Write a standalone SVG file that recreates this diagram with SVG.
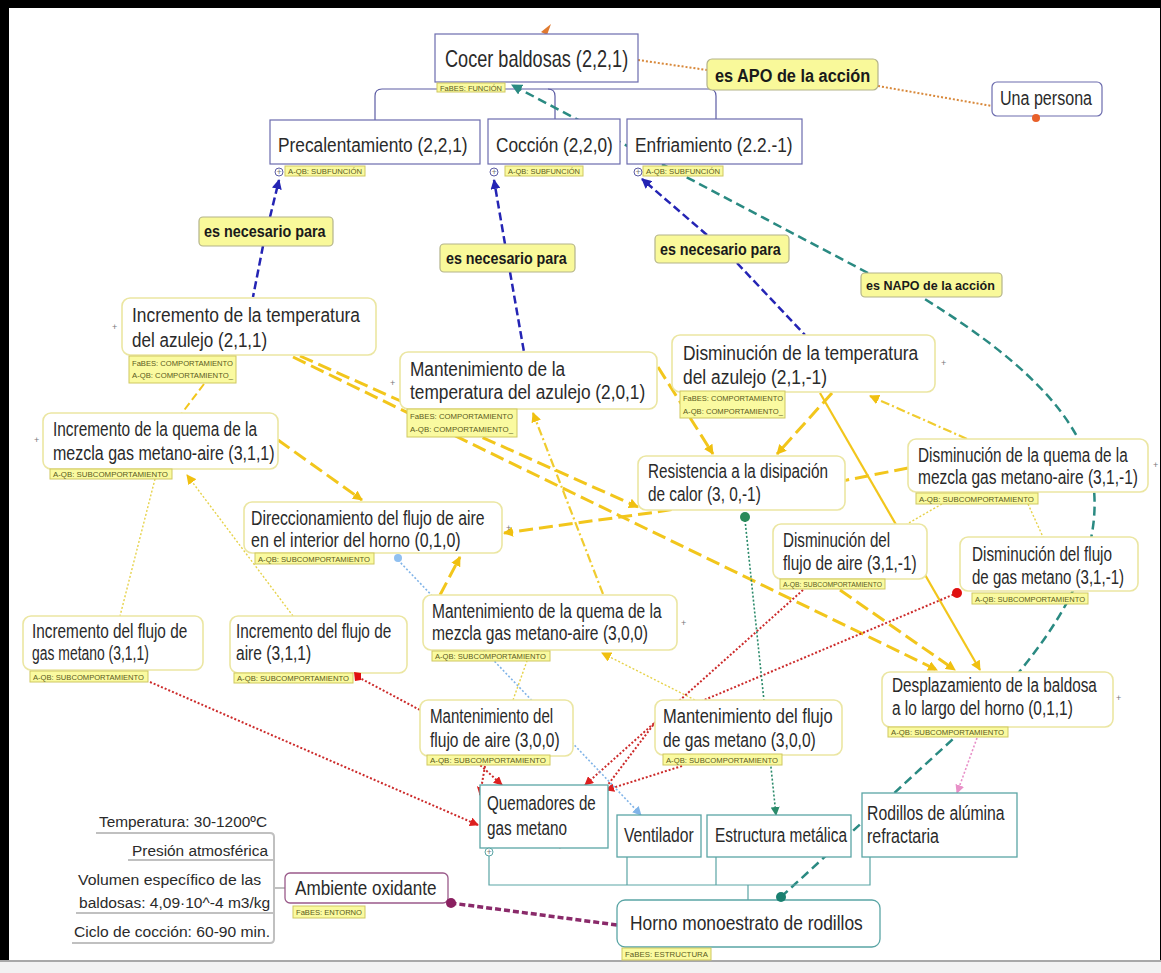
<svg xmlns="http://www.w3.org/2000/svg" width="1161" height="973" viewBox="0 0 1161 973">
<style>
text{font-family:"Liberation Sans",Arial,sans-serif;fill:#2a2a2a}
.t{font-size:21px}
.big{font-size:23px}
.s15{font-size:15.5px}
.tg rect{fill:#fafaa0;stroke:#cfc860;stroke-width:1}
.tg text{font-size:8px;fill:#5a5a20}
.lb rect{fill:#f9f99a;stroke:#b4b48a;stroke-width:1.2}
.lb text{font-weight:bold;font-size:16px;fill:#1a1a1a}
.bn{fill:#fff;stroke:#ebe6a2;stroke-width:1.6}
.fn{fill:#fff;stroke:#6c6cae;stroke-width:1.2}
.sn{fill:#fff;stroke:#5aa5a5;stroke-width:1.3}
.plus{font-size:9px;fill:#777}
.yd{fill:none;stroke:#f2c61c;stroke-width:3;stroke-dasharray:14 6}
.ym{fill:none;stroke:#f2c61c;stroke-width:2;stroke-dasharray:8 4}
.ydd{fill:none;stroke:#f0cc30;stroke-width:2.2;stroke-dasharray:9 3 2 3}
.ys{fill:none;stroke:#f2c61c;stroke-width:2.2}
.yt{fill:none;stroke:#e6d24a;stroke-width:1.4;stroke-dasharray:2 2}
.bd{fill:none;stroke:#2424b4;stroke-width:2.5;stroke-dasharray:8 4}
.td{fill:none;stroke:#2a8a82;stroke-width:2.5;stroke-dasharray:9 5}
.rd{fill:none;stroke:#cc2a2a;stroke-width:2;stroke-dasharray:2 2}
.tree{fill:none;stroke:#5c5ca4;stroke-width:1.2}
.stree{fill:none;stroke:#5aa5a5;stroke-width:1.2}
</style>
<defs>
<marker id="ay" viewBox="0 0 10 10" refX="9" refY="5" markerWidth="10" markerHeight="10" markerUnits="userSpaceOnUse" orient="auto"><path d="M0,0 L10,5 L0,10 z" fill="#f0c010"/></marker>
<marker id="ab" viewBox="0 0 10 10" refX="9" refY="5" markerWidth="10" markerHeight="10" markerUnits="userSpaceOnUse" orient="auto"><path d="M0,0 L10,5 L0,10 z" fill="#2424b4"/></marker>
<marker id="at" viewBox="0 0 10 10" refX="9" refY="5" markerWidth="11" markerHeight="11" markerUnits="userSpaceOnUse" orient="auto"><path d="M0,0 L10,5 L0,10 z" fill="#2a8a82"/></marker>
<marker id="ar" viewBox="0 0 10 10" refX="9" refY="5" markerWidth="9" markerHeight="9" markerUnits="userSpaceOnUse" orient="auto"><path d="M0,0 L10,5 L0,10 z" fill="#dd2020"/></marker>
<marker id="alb" viewBox="0 0 10 10" refX="9" refY="5" markerWidth="9" markerHeight="9" markerUnits="userSpaceOnUse" orient="auto"><path d="M0,0 L10,5 L0,10 z" fill="#80b4e8"/></marker>
<marker id="ag" viewBox="0 0 10 10" refX="9" refY="5" markerWidth="9" markerHeight="9" markerUnits="userSpaceOnUse" orient="auto"><path d="M0,0 L10,5 L0,10 z" fill="#2a8a6a"/></marker>
<marker id="ap" viewBox="0 0 10 10" refX="9" refY="5" markerWidth="9" markerHeight="9" markerUnits="userSpaceOnUse" orient="auto"><path d="M0,0 L10,5 L0,10 z" fill="#e890c8"/></marker>
</defs>

<rect width="1161" height="973" fill="#000"/>
<rect x="9" y="8" width="1151" height="953" fill="#fff"/>
<rect x="0" y="961" width="1161" height="12" fill="#f2f2f2"/>
<line x1="0" y1="961" x2="1161" y2="961" stroke="#a8a8a8" stroke-width="2"/>

<g id="connectors">
<path class="tree" d="M375,120 V96 Q375,89 382,89 H709 Q716,89 716,96 V119"/>
<path class="tree" d="M555,119 V96 Q555,89 548,89"/>
<path d="M638,60 L707,70" fill="none" stroke="#d8883a" stroke-width="2" stroke-dasharray="2 2"/>
<path d="M878,86 L992,106" fill="none" stroke="#d8883a" stroke-width="2" stroke-dasharray="2 2"/>
<path d="M541,32 L551,24 L547,35 z" fill="#e07a30"/>
<path class="bd" d="M270,217 L279,180" marker-end="url(#ab)"/>
<path class="bd" d="M263,246 L253,297"/>
<path class="bd" d="M505,244 L494,180" marker-end="url(#ab)"/>
<path class="bd" d="M510,272 L524,352"/>
<path class="bd" d="M707,235 L642,179" marker-end="url(#ab)"/>
<path class="bd" d="M737,263 L805,335"/>
<path class="td" d="M868,273 L512,85" marker-end="url(#at)"/>
<path class="td" d="M781,897 L990,705 C1060,630 1100,560 1094,490 C1088,430 1040,370 923,298"/>
<path class="ym" d="M204,384 L182,413"/>
<path class="yd" d="M278,440 L362,500" marker-end="url(#ay)"/>
<path class="yt" d="M155,479 L120,616"/>
<path class="yt" d="M293,616 L187,475" marker-end="url(#ay)"/>
<path class="yd" d="M908,468 L847,480 L657,512 L504,533" marker-end="url(#ay)"/>
<path class="yd" d="M440,595 L460,557" marker-end="url(#ay)"/>
<path class="ydd" d="M603,594 L533,413" marker-end="url(#ay)"/>
<path class="yd" d="M293,357 L937,670" marker-end="url(#ay)"/>
<path class="yd" d="M300,356 L638,507" marker-end="url(#ay)"/>
<path class="yd" d="M658,367 L713,454" marker-end="url(#ay)"/>
<path class="yd" d="M832,393 L777,454" marker-end="url(#ay)"/>
<path class="ys" d="M820,393 L980,670" marker-end="url(#ay)"/>
<path class="ydd" d="M967,439 L870,396" marker-end="url(#ay)"/>
<path class="yt" d="M942,504 L907,524"/>
<path class="yt" d="M1028,504 L1043,537"/>
<path class="yd" d="M840,590 L955,670" marker-end="url(#ay)"/>
<path class="yt" d="M695,700 L602,653" marker-end="url(#ay)"/>
<path class="yt" d="M513,700 L527,661"/>
<path class="rd" d="M150,682 L478,825" marker-end="url(#ar)"/>
<path class="rd" d="M358,677 L420,710 L502,785" marker-end="url(#ar)"/>
<path class="rd" d="M485,766 L480,795" marker-end="url(#ar)"/>
<path class="rd" d="M803,590 L585,785" marker-end="url(#ar)"/>
<path class="rd" d="M957,593 L657,720 L560,848" marker-end="url(#ar)"/>
<path class="rd" d="M682,766 L606,790" marker-end="url(#ar)"/>
<path d="M398,560 L641,815" fill="none" stroke="#80b4e8" stroke-width="1.6" stroke-dasharray="2 2" marker-end="url(#alb)"/>
<path d="M745,520 L776,815" fill="none" stroke="#2a8a6a" stroke-width="1.6" stroke-dasharray="2 2" marker-end="url(#ag)"/>
<path d="M977,738 L957,793" fill="none" stroke="#e890c8" stroke-width="1.6" stroke-dasharray="2 2" marker-end="url(#ap)"/>
<path d="M617,925 L451,903" fill="none" stroke="#8a2a6a" stroke-width="3.5" stroke-dasharray="6 3"/>
<path class="stree" d="M489,856 V885 H870 V857 M627,857 V885 M716,857 V885 M748,885 V900"/>
<g stroke="#c0c0c0" stroke-width="2" fill="none">
<path d="M96,833 H270 Q274,833 274,837 V939 Q274,943 270,943 H72"/>
<path d="M128,860 H274 M76,913 H274 M274,888 H285"/>
</g>
</g>

<g id="n-cocer">
<rect class="fn" x="435" y="34" width="203" height="48"/>
<text class="big" transform="translate(445 67) scale(.8 1)" textLength="229" lengthAdjust="spacingAndGlyphs">Cocer baldosas (2,2,1)</text>
<g class="tg"><rect x="437" y="83" width="68" height="9"/><text x="440" y="90.5" textLength="62" lengthAdjust="spacingAndGlyphs">FaBES: FUNCIÓN</text></g>
</g>
<g id="n-precal">
<rect class="fn" x="270" y="120" width="210" height="44"/>
<text class="t" transform="translate(278 152) scale(.8 1)" textLength="237" lengthAdjust="spacingAndGlyphs">Precalentamiento (2,2,1)</text>
<g class="tg"><rect x="285" y="166" width="80" height="10"/><text x="288" y="174" textLength="74" lengthAdjust="spacingAndGlyphs">A-QB: SUBFUNCIÓN</text></g>
<circle cx="279" cy="172" r="4" fill="#fff" stroke="#5c5ca4"/><text class="plus" x="276.5" y="175">+</text>
</g>
<g id="n-coccion">
<rect class="fn" x="488" y="119" width="132" height="45"/>
<text class="t" transform="translate(496 152) scale(.8 1)" textLength="146" lengthAdjust="spacingAndGlyphs">Cocción (2,2,0)</text>
<g class="tg"><rect x="505" y="166" width="78" height="10"/><text x="508" y="174" textLength="72" lengthAdjust="spacingAndGlyphs">A-QB: SUBFUNCIÓN</text></g>
<circle cx="494" cy="172" r="4" fill="#fff" stroke="#5c5ca4"/><text class="plus" x="491.5" y="175">+</text>
</g>
<g id="n-enfri">
<rect class="fn" x="627" y="119" width="175" height="45"/>
<text class="t" transform="translate(635 152) scale(.8 1)" textLength="197" lengthAdjust="spacingAndGlyphs">Enfriamiento (2.2.-1)</text>
<g class="tg"><rect x="643" y="166" width="80" height="10"/><text x="646" y="174" textLength="74" lengthAdjust="spacingAndGlyphs">A-QB: SUBFUNCIÓN</text></g>
<circle cx="638" cy="172" r="4" fill="#fff" stroke="#5c5ca4"/><text class="plus" x="635.5" y="175">+</text>
</g>
<g id="n-persona">
<rect class="fn" x="992" y="82" width="110" height="34" rx="5"/>
<text class="t" transform="translate(1000 105) scale(.8 1)" textLength="115" lengthAdjust="spacingAndGlyphs">Una persona</text>
<circle cx="1036" cy="118" r="4" fill="#e8602a"/>
</g>

<g id="l-apo" class="lb"><rect x="707" y="59" width="171" height="31" rx="5"/><text transform="translate(715 82) scale(.8 1)" style="font-size:19px" textLength="194" lengthAdjust="spacingAndGlyphs">es APO de la acción</text></g>
<g id="l-nec1" class="lb"><rect x="199" y="217" width="134" height="29" rx="4"/><text transform="translate(204 237) scale(.8 1)" textLength="152" lengthAdjust="spacingAndGlyphs">es necesario para</text></g>
<g id="l-nec2" class="lb"><rect x="440" y="244" width="135" height="28" rx="4"/><text transform="translate(446 264) scale(.8 1)" textLength="151" lengthAdjust="spacingAndGlyphs">es necesario para</text></g>
<g id="l-nec3" class="lb"><rect x="655" y="235" width="134" height="28" rx="4"/><text transform="translate(660 255) scale(.8 1)" textLength="151" lengthAdjust="spacingAndGlyphs">es necesario para</text></g>
<g id="l-napo" class="lb"><rect x="861" y="273" width="141" height="24" rx="4"/><text transform="translate(866 290) scale(.8 1)" style="font-size:13.5px" textLength="161" lengthAdjust="spacingAndGlyphs">es NAPO de la acción</text></g>

<g id="n-inc-temp">
<rect class="bn" x="122" y="298" width="254" height="57" rx="8"/>
<text class="t" transform="translate(132 322) scale(.8 1)" textLength="285" lengthAdjust="spacingAndGlyphs">Incremento de la temperatura</text>
<text class="t" transform="translate(132 347) scale(.8 1)" textLength="169" lengthAdjust="spacingAndGlyphs">del azulejo (2,1,1)</text>
<g class="tg"><rect x="129" y="356" width="107" height="27"/><text x="132" y="366" textLength="101" lengthAdjust="spacingAndGlyphs">FaBES: COMPORTAMIENTO</text><text x="132" y="378" textLength="101" lengthAdjust="spacingAndGlyphs">A-QB: COMPORTAMIENTO_</text></g>
<text class="plus" x="112" y="330">+</text>
</g>
<g id="n-man-temp">
<rect class="bn" x="400" y="352" width="257" height="57" rx="8"/>
<text class="t" transform="translate(410 376) scale(.8 1)" textLength="194" lengthAdjust="spacingAndGlyphs">Mantenimiento de la</text>
<text class="t" transform="translate(410 399) scale(.8 1)" textLength="294" lengthAdjust="spacingAndGlyphs">temperatura del azulejo (2,0,1)</text>
<g class="tg"><rect x="407" y="409" width="110" height="28"/><text x="410" y="419" textLength="103" lengthAdjust="spacingAndGlyphs">FaBES: COMPORTAMIENTO</text><text x="410" y="432" textLength="103" lengthAdjust="spacingAndGlyphs">A-QB: COMPORTAMIENTO_</text></g>
<text class="plus" x="390" y="386">+</text>
</g>
<g id="n-dis-temp">
<rect class="bn" x="672" y="335" width="263" height="57" rx="8"/>
<text class="t" transform="translate(683 360) scale(.8 1)" textLength="294" lengthAdjust="spacingAndGlyphs">Disminución de la temperatura</text>
<text class="t" transform="translate(683 384) scale(.8 1)" textLength="180" lengthAdjust="spacingAndGlyphs">del azulejo (2,1,-1)</text>
<g class="tg"><rect x="680" y="391" width="105" height="27"/><text x="683" y="401" textLength="100" lengthAdjust="spacingAndGlyphs">FaBES: COMPORTAMIENTO</text><text x="683" y="414" textLength="100" lengthAdjust="spacingAndGlyphs">A-QB: COMPORTAMIENTO_</text></g>
<text class="plus" x="941" y="366">+</text>
</g>
<g id="n-inc-quema">
<rect class="bn" x="43" y="413" width="235" height="56" rx="8"/>
<text class="t" transform="translate(53 436) scale(.8 1)" textLength="255" lengthAdjust="spacingAndGlyphs">Incremento de la quema de la</text>
<text class="t" transform="translate(53 460) scale(.8 1)" textLength="277" lengthAdjust="spacingAndGlyphs">mezcla gas metano-aire (3,1,1)</text>
<g class="tg"><rect x="50" y="469" width="122" height="10"/><text x="53" y="477" textLength="115" lengthAdjust="spacingAndGlyphs">A-QB: SUBCOMPORTAMIENTO</text></g>
<text class="plus" x="34" y="443">+</text>
</g>
<g id="n-resist">
<rect class="bn" x="638" y="456" width="207" height="54" rx="8"/>
<text class="t" transform="translate(648 478) scale(.8 1)" textLength="225" lengthAdjust="spacingAndGlyphs">Resistencia a la disipación</text>
<text class="t" transform="translate(648 501) scale(.8 1)" textLength="141" lengthAdjust="spacingAndGlyphs">de calor (3, 0,-1)</text>
<circle cx="745" cy="517" r="5" fill="#2a8a5a"/>
</g>
<g id="n-dis-quema">
<rect class="bn" x="908" y="439" width="240" height="53" rx="8"/>
<text class="t" transform="translate(918 462) scale(.78 1)" textLength="269" lengthAdjust="spacingAndGlyphs">Disminución de la quema de la</text>
<text class="t" transform="translate(918 484) scale(.78 1)" textLength="282" lengthAdjust="spacingAndGlyphs">mezcla gas metano-aire (3,1,-1)</text>
<g class="tg"><rect x="916" y="493" width="122" height="11"/><text x="919" y="501.5" textLength="115" lengthAdjust="spacingAndGlyphs">A-QB: SUBCOMPORTAMIENTO</text></g>
<text class="plus" x="1153" y="468">+</text>
</g>
<g id="n-direc">
<rect class="bn" x="244" y="502" width="258" height="51" rx="8"/>
<text class="t" transform="translate(251 525) scale(.8 1)" textLength="292" lengthAdjust="spacingAndGlyphs">Direccionamiento del flujo de aire</text>
<text class="t" transform="translate(251 547) scale(.8 1)" textLength="262" lengthAdjust="spacingAndGlyphs">en el interior del horno (0,1,0)</text>
<g class="tg"><rect x="255" y="553" width="119" height="11"/><text x="258" y="561.5" textLength="112" lengthAdjust="spacingAndGlyphs">A-QB: SUBCOMPORTAMIENTO</text></g>
<text class="plus" x="506" y="531">+</text>
<circle cx="398" cy="558" r="4" fill="#90c0f0"/>
</g>
<g id="n-dis-aire">
<rect class="bn" x="773" y="524" width="154" height="55" rx="8"/>
<text class="t" transform="translate(783 547) scale(.8 1)" textLength="134" lengthAdjust="spacingAndGlyphs">Disminución del</text>
<text class="t" transform="translate(783 570) scale(.8 1)" textLength="167" lengthAdjust="spacingAndGlyphs">flujo de aire (3,1,-1)</text>
<g class="tg"><rect x="780" y="579" width="105" height="10"/><text x="783" y="587" textLength="99" lengthAdjust="spacingAndGlyphs">A-QB: SUBCOMPORTAMIENTO</text></g>
</g>
<g id="n-dis-gas">
<rect class="bn" x="960" y="537" width="178" height="54" rx="8"/>
<text class="t" transform="translate(972 561) scale(.8 1)" textLength="175" lengthAdjust="spacingAndGlyphs">Disminución del flujo</text>
<text class="t" transform="translate(972 584) scale(.8 1)" textLength="190" lengthAdjust="spacingAndGlyphs">de gas metano (3,1,-1)</text>
<g class="tg"><rect x="972" y="593" width="116" height="11"/><text x="975" y="601.5" textLength="110" lengthAdjust="spacingAndGlyphs">A-QB: SUBCOMPORTAMIENTO</text></g>
<circle cx="957" cy="593" r="5" fill="#e01010"/>
</g>
<g id="n-man-quema">
<rect class="bn" x="423" y="595" width="254" height="55" rx="8"/>
<text class="t" transform="translate(432 618) scale(.8 1)" textLength="287" lengthAdjust="spacingAndGlyphs">Mantenimiento de la quema de la</text>
<text class="t" transform="translate(432 640) scale(.8 1)" textLength="270" lengthAdjust="spacingAndGlyphs">mezcla gas metano-aire (3,0,0)</text>
<g class="tg"><rect x="432" y="651" width="118" height="10"/><text x="435" y="659" textLength="111" lengthAdjust="spacingAndGlyphs">A-QB: SUBCOMPORTAMIENTO</text></g>
<text class="plus" x="681" y="626">+</text>
</g>
<g id="n-inc-gas">
<rect class="bn" x="23" y="616" width="180" height="54" rx="8"/>
<text class="t" transform="translate(32 638) scale(.8 1)" textLength="194" lengthAdjust="spacingAndGlyphs">Incremento del flujo de</text>
<text class="t" transform="translate(32 660) scale(.8 1)" textLength="146" lengthAdjust="spacingAndGlyphs">gas metano (3,1,1)</text>
<g class="tg"><rect x="30" y="671" width="118" height="11"/><text x="33" y="679.5" textLength="111" lengthAdjust="spacingAndGlyphs">A-QB: SUBCOMPORTAMIENTO</text></g>
</g>
<g id="n-inc-aire">
<rect class="bn" x="230" y="616" width="177" height="57" rx="8"/>
<text class="t" transform="translate(236 638) scale(.8 1)" textLength="194" lengthAdjust="spacingAndGlyphs">Incremento del flujo de</text>
<text class="t" transform="translate(236 660) scale(.8 1)" textLength="94" lengthAdjust="spacingAndGlyphs">aire (3,1,1)</text>
<g class="tg"><rect x="234" y="673" width="119" height="10"/><text x="237" y="681" textLength="112" lengthAdjust="spacingAndGlyphs">A-QB: SUBCOMPORTAMIENTO</text></g>
<path d="M354,672 L361,673 L361,680 L355,681 z" fill="#e01010"/>
</g>
<g id="n-man-aire">
<rect class="bn" x="420" y="700" width="153" height="56" rx="8"/>
<text class="t" transform="translate(430 723) scale(.8 1)" textLength="154" lengthAdjust="spacingAndGlyphs">Mantenimiento del</text>
<text class="t" transform="translate(430 747) scale(.8 1)" textLength="162" lengthAdjust="spacingAndGlyphs">flujo de aire (3,0,0)</text>
<g class="tg"><rect x="427" y="755" width="123" height="10"/><text x="430" y="763" textLength="116" lengthAdjust="spacingAndGlyphs">A-QB: SUBCOMPORTAMIENTO</text></g>
</g>
<g id="n-man-gas">
<rect class="bn" x="655" y="700" width="187" height="55" rx="8"/>
<text class="t" transform="translate(663 723) scale(.8 1)" textLength="212" lengthAdjust="spacingAndGlyphs">Mantenimiento del flujo</text>
<text class="t" transform="translate(663 747) scale(.8 1)" textLength="191" lengthAdjust="spacingAndGlyphs">de gas metano (3,0,0)</text>
<g class="tg"><rect x="663" y="754" width="119" height="11"/><text x="666" y="762.5" textLength="112" lengthAdjust="spacingAndGlyphs">A-QB: SUBCOMPORTAMIENTO</text></g>
</g>
<g id="n-despl">
<rect class="bn" x="882" y="672" width="231" height="55" rx="8"/>
<text class="t" transform="translate(892 692) scale(.8 1)" textLength="256" lengthAdjust="spacingAndGlyphs">Desplazamiento de la baldosa</text>
<text class="t" transform="translate(892 715) scale(.8 1)" textLength="226" lengthAdjust="spacingAndGlyphs">a lo largo del horno (0,1,1)</text>
<g class="tg"><rect x="888" y="727" width="120" height="10"/><text x="891" y="735" textLength="113" lengthAdjust="spacingAndGlyphs">A-QB: SUBCOMPORTAMIENTO</text></g>
<text class="plus" x="1116" y="701">+</text>
</g>

<g id="n-quem">
<rect class="sn" x="480" y="785" width="128" height="63"/>
<text class="t" transform="translate(487 810) scale(.8 1)" textLength="136" lengthAdjust="spacingAndGlyphs">Quemadores de</text>
<text class="t" transform="translate(487 835) scale(.8 1)" textLength="100" lengthAdjust="spacingAndGlyphs">gas metano</text>
<circle cx="489" cy="852" r="4" fill="#fff" stroke="#5aa5a5"/><text class="plus" x="486.5" y="855">+</text>
</g>
<g id="n-vent">
<rect class="sn" x="617" y="815" width="84" height="42"/>
<text class="t" transform="translate(624 842) scale(.8 1)" textLength="87" lengthAdjust="spacingAndGlyphs">Ventilador</text>
</g>
<g id="n-estr">
<rect class="sn" x="707" y="815" width="144" height="42"/>
<text class="t" transform="translate(715 842) scale(.8 1)" textLength="165" lengthAdjust="spacingAndGlyphs">Estructura metálica</text>
</g>
<g id="n-rod">
<rect class="sn" x="862" y="793" width="155" height="64"/>
<text class="t" transform="translate(867 820) scale(.8 1)" textLength="172" lengthAdjust="spacingAndGlyphs">Rodillos de alúmina</text>
<text class="t" transform="translate(867 843) scale(.8 1)" textLength="90" lengthAdjust="spacingAndGlyphs">refractaria</text>
</g>
<g id="n-horno">
<rect class="sn" x="617" y="900" width="263" height="47" rx="8"/>
<text class="t" transform="translate(630 930) scale(.8 1)" textLength="291" lengthAdjust="spacingAndGlyphs">Horno monoestrato de rodillos</text>
<g class="tg"><rect x="622" y="948" width="89" height="12"/><text x="625" y="957" textLength="83" lengthAdjust="spacingAndGlyphs">FaBES: ESTRUCTURA</text></g>
<circle cx="781" cy="897" r="5" fill="#1a8070"/>
</g>
<g id="n-amb">
<rect x="285" y="873" width="163" height="30" rx="5" fill="#fff" stroke="#9a5a8a" stroke-width="1.3"/>
<text class="t" transform="translate(295 895) scale(.8 1)" textLength="177" lengthAdjust="spacingAndGlyphs">Ambiente oxidante</text>
<g class="tg"><rect x="293" y="906" width="72" height="12"/><text x="296" y="915" textLength="66" lengthAdjust="spacingAndGlyphs">FaBES: ENTORNO</text></g>
<circle cx="451" cy="903" r="5" fill="#8a2060"/>
</g>
<g id="attributes">
<text class="s15" transform="translate(99 827) scale(.8 1)" textLength="210" lengthAdjust="spacingAndGlyphs">Temperatura: 30-1200ºC</text>
<text class="s15" transform="translate(132 856) scale(.8 1)" textLength="170" lengthAdjust="spacingAndGlyphs">Presión atmosférica</text>
<text class="s15" transform="translate(78 885) scale(.8 1)" textLength="229" lengthAdjust="spacingAndGlyphs">Volumen específico de las</text>
<text class="s15" transform="translate(79 908) scale(.8 1)" textLength="239" lengthAdjust="spacingAndGlyphs">baldosas: 4,09·10^-4 m3/kg</text>
<text class="s15" transform="translate(74 937) scale(.8 1)" textLength="245" lengthAdjust="spacingAndGlyphs">Ciclo de cocción: 60-90 min.</text>
</g>
</svg>
